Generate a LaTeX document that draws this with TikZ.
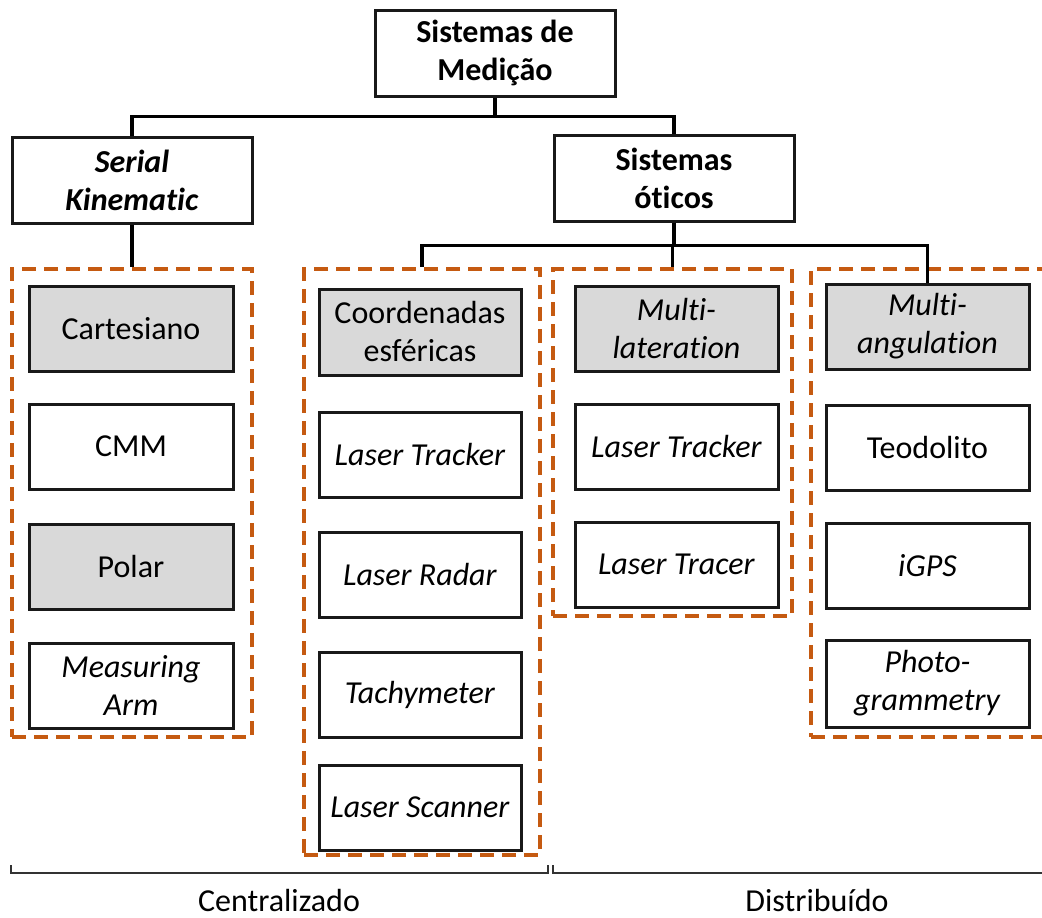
\documentclass[tikz,border=0pt]{standalone}
\usepackage{fontspec}
\setmainfont{Carlito}[Ligatures={NoCommon}]
\definecolor{boxgray}{HTML}{D9D9D9}
\definecolor{dashorange}{HTML}{C55A11}
\newcommand{\labelfont}{\fontsize{32}{38}\selectfont}
\begin{document}
\begin{tikzpicture}[x=1pt,y=-1pt,
  item/.style={draw=black!90, line width=3pt, fill=white, minimum width=203pt,
    minimum height=85pt, inner sep=0pt, align=center, font=\labelfont},
  shaded/.style={item, fill=boxgray},
  head/.style={item, minimum width=240pt, minimum height=86pt,
    font=\labelfont\bfseries},
  group/.style={draw=dashorange, line width=3.2pt, dash pattern=on 14pt off 8pt,
    inner sep=0pt},
  link/.style={draw=black, line width=3.2pt},
  brace/.style={draw=black!80, line width=1.5pt},
  caption/.style={font=\labelfont, inner sep=0pt}
]
\useasboundingbox (0,0) rectangle (1042,918);

% dashed groups
\node[group, minimum width=240pt, minimum height=468pt] (d1) at (132,503) {};
\node[group, minimum width=236pt, minimum height=586pt] (d2) at (422,562) {};
\node[group, minimum width=239pt, minimum height=347pt] (d3) at (672.5,442.5) {};
\node[group, minimum width=260pt, minimum height=468pt] (d4) at (941,503) {};

% upper levels
\node[head] (root) at (495,53) {Sistemas de\\Medição};
\node[head] (serial) at (132,180) {\textit{Serial}\\\textit{Kinematic}};
\node[head] (oticos) at (674,178) {Sistemas\\óticos};

% column 1
\node[shaded, minimum width=204pt] (cart) at (131,329) {Cartesiano};
\node[item, minimum width=204pt] (cmm) at (131,446.5) {CMM};
\node[shaded, minimum width=204pt] (polar) at (131,566.5) {Polar};
\node[item, minimum width=204pt] (arm) at (131,685.5) {\textit{Measuring}\\\textit{Arm}};

% column 2
\node[shaded, minimum width=202pt, minimum height=86pt] (coord) at (420,332) {Coordenadas\\esféricas};
\node[item, minimum width=202pt] (lt1) at (420,454.5) {\textit{Laser Tracker}};
\node[item, minimum width=202pt] (radar) at (420,574.5) {\textit{Laser Radar}};
\node[item, minimum width=202pt] (tachy) at (420,694.5) {\textit{Tachymeter}};
\node[item, minimum width=202pt] (scan) at (420,807.5) {\textit{Laser Scanner}};

% column 3
\node[shaded] (mlat) at (676.5,328.5) {\textit{Multi-}\\\textit{lateration}};
\node[item] (lt2) at (676.5,446.5) {\textit{Laser Tracker}};
\node[item] (tracer) at (676.5,564.5) {\textit{Laser Tracer}};

% column 4
\node[shaded] (mang) at (927.5,326.5) {\textit{Multi-}\\\textit{angulation}};
\node[item] (teo) at (927.5,447.5) {Teodolito};
\node[item] (igps) at (927.5,565.5) {\textit{iGPS}};
\node[item, minimum height=87pt] (photo) at (927.5,683.5) {\textit{Photo-}\\\textit{grammetry}};

% tree connectors
\draw[link] (root.south) -- ++(0,19) -| (serial.north);
\draw[link] (root.south) -- ++(0,19) -| (oticos.north);
\draw[link] (serial.south) -- (serial.south |- d1.north);
\draw[link] (oticos.south) -- ++(0,23) -| (d2.north);
\draw[link] (oticos.south) -- ++(0,23) -| (d3.north);
\draw[link] (oticos.south) -- ++(0,23) -| (mang.north);

% brackets and captions
\coordinate (c1) at (11,865);
\coordinate (c2) at (548,865);
\coordinate (e1) at (553,865);
\coordinate (e2) at (1050,865);
\draw[brace] (c1) -- (c1 |- 0,873) -- (c2 |- 0,873) -- (c2);
\draw[brace] (e1) -- (e1 |- 0,873) -- (e2 |- 0,873) -- (e2);
\node[caption] (cent) at (279,900) {Centralizado};
\node[caption] (dist) at (817,900) {Distribuído};
\end{tikzpicture}
\end{document}
